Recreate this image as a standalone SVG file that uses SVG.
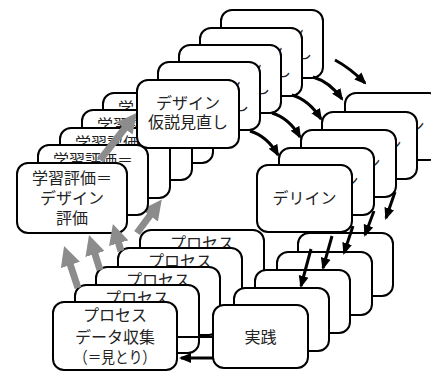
<svg xmlns="http://www.w3.org/2000/svg" width="431" height="373" viewBox="0 0 431 373">
<defs>
<style>
.b{fill:#fff;stroke:#000;stroke-width:2}
text{font-family:"Noto Sans CJK JP","Noto Sans",sans-serif;font-size:16px;text-anchor:middle;fill:#222}
text.s{text-anchor:start}
.ka{fill:none;stroke:#000;stroke-width:3;marker-end:url(#ah)}
.ga{fill:none;stroke:#8c8c8c;stroke-width:7;marker-end:url(#gh)}
.ln{fill:none;stroke:#000;stroke-width:2}
</style>
<marker id="ah" viewBox="0 0 12 12" refX="10" refY="6" markerWidth="12" markerHeight="12" markerUnits="userSpaceOnUse" orient="auto"><path d="M0,1 L12,6 L0,11 z" fill="#000"/></marker>
<marker id="gh" viewBox="0 0 20 20" refX="12" refY="10" markerWidth="20" markerHeight="20" markerUnits="userSpaceOnUse" orient="auto"><path d="M0,0 L20,10 L0,20 z" fill="#8c8c8c"/></marker>
</defs>
<rect width="431" height="373" fill="#fff"/>

<g id="g3-5"><rect class="b" x="103" y="93" width="110" height="70" rx="11"/><text class="s" x="118" y="114">学</text></g>
<g id="g3-4"><rect class="b" x="82" y="110" width="110" height="70" rx="11"/><text class="s" x="97" y="131">学習評</text></g>
<g id="g3-3"><rect class="b" x="60" y="128" width="110" height="70" rx="11"/><text class="s" x="75" y="149">学習評価</text></g>

<g id="g1-5"><rect class="b" x="221" y="10" width="102" height="68" rx="11"/><text class="s" x="288" y="39">ン</text><text class="s" x="296" y="58">し</text></g>
<g id="g1-4"><rect class="b" x="200" y="28" width="102" height="68" rx="11"/><text class="s" x="267" y="57">ン</text><text class="s" x="275" y="76">し</text></g>
<g id="g1-3"><rect class="b" x="179" y="45" width="102" height="68" rx="11"/><text class="s" x="246" y="74">ン</text><text class="s" x="254" y="93">し</text></g>
<g id="g1-2"><rect class="b" x="158" y="62" width="102" height="68" rx="11"/><text class="s" x="225" y="91">ン</text><text class="s" x="233" y="110">し</text></g>

<g id="gray-back"><path class="ga" d="M137,233 L157,206"/></g>

<g id="g3-2"><rect class="b" x="38" y="145" width="110" height="70" rx="11"/><text x="93" y="166">学習評価＝</text></g>

<g id="gray-top"><path class="ga" d="M100,160 L132,119"/></g>

<g id="g1-1"><rect class="b" x="137" y="80" width="102" height="68" rx="11"/><text x="188" y="109">デザイン</text><text x="188" y="128">仮説見直し</text></g>
<g id="g3-1"><rect class="b" x="17" y="163" width="110" height="70" rx="11"/><text x="72" y="184">学習評価＝</text><text x="72" y="204">デザイン</text><text x="72" y="224">評価</text></g>

<g id="g4-5"><rect class="b" x="140" y="230" width="124" height="68" rx="11"/><text x="202" y="249">プロセス</text></g>
<g id="g4-4"><rect class="b" x="118" y="248" width="124" height="68" rx="11"/><text x="180" y="267">プロセス</text></g>
<g id="g4-3"><rect class="b" x="96" y="267" width="124" height="68" rx="11"/><text x="158" y="286">プロセス</text></g>
<g id="g4-2"><rect class="b" x="75" y="285" width="124" height="68" rx="11"/><text x="137" y="304">プロセス</text></g>
<g id="g4-1"><rect class="b" x="53" y="302" width="124" height="68" rx="11"/><text x="115" y="321">プロセス</text><text x="115" y="343">データ収集</text><text x="115" y="363" textLength="82" lengthAdjust="spacingAndGlyphs">（＝見とり）</text></g>

<g id="g2-5"><rect class="b" x="345" y="93" width="95" height="67" rx="11"/><text class="s" x="408.5" y="132">ン</text></g>
<g id="g2-4"><rect class="b" x="322" y="112" width="95" height="67" rx="11"/><text class="s" x="385.5" y="151">ン</text></g>
<g id="g2-3"><rect class="b" x="301" y="130" width="95" height="67" rx="11"/><text class="s" x="364.5" y="169">ン</text></g>
<g id="g2-2"><rect class="b" x="279" y="148" width="95" height="67" rx="11"/><text class="s" x="342.5" y="187">ン</text></g>
<g id="g2-1"><rect class="b" x="257" y="165" width="95" height="67" rx="11"/><text x="304.5" y="204">デリイン</text></g>

<g id="g5-5"><rect class="b" x="298" y="233" width="95" height="63" rx="11"/></g>
<g id="g5-4"><rect class="b" x="277" y="252" width="95" height="63" rx="11"/></g>
<g id="g5-3"><rect class="b" x="255" y="270" width="95" height="63" rx="11"/></g>
<g id="g5-2"><rect class="b" x="234" y="288" width="95" height="63" rx="11"/></g>
<g id="g5-1"><rect class="b" x="213" y="305" width="95" height="63" rx="11"/><text x="260.5" y="343">実践</text></g>

<g id="connectors">
<path class="ga" d="M78,288 L66.6,253.6"/>
<path class="ga" d="M100,270 L91.4,242.6"/>
<path class="ga" d="M121,251 L115.2,231.7"/>
<path class="ka" d="M313,77 Q330,82 342,99"/>
<path class="ka" d="M292,95 Q309,100 321,119"/>
<path class="ka" d="M272,113 Q289,118 300,137"/>
<path class="ka" d="M250,131 Q267,136 278,155"/>
<path class="ka" d="M335,60 Q350,68 365,83"/>
<path class="ka" d="M395,192 L386,218"/>
<path class="ka" d="M374,211 L365,235"/>
<path class="ka" d="M353,226 L344,253"/>
<path class="ka" d="M332,236 L323,268"/>
<path class="ka" d="M311,249 L301,286"/>
<path class="ka" d="M213,358 L181,358"/>
<path class="ln" d="M177,337 L213,337"/>
</g>
</svg>
